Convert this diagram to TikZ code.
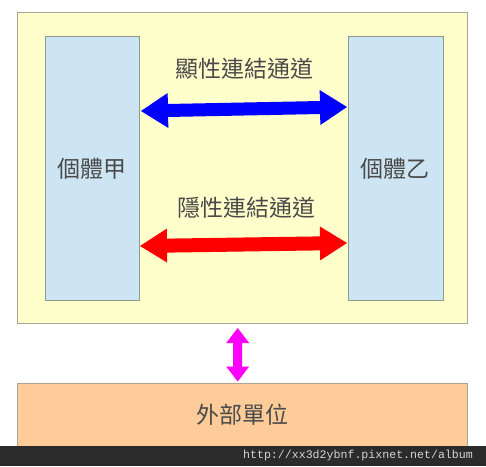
\documentclass[tikz,border=0pt]{standalone}
\usepackage{fontspec}
\usetikzlibrary{calc}
\newfontfamily\cjk{Noto Sans CJK TC}
\setmonofont{Liberation Mono}
\definecolor{yel}{HTML}{FFFFCC}
\definecolor{yelb}{HTML}{A6A69C}
\definecolor{blu}{HTML}{CDE4F2}
\definecolor{blub}{HTML}{8E9A8E}
\definecolor{org}{HTML}{FFCC99}
\definecolor{orgb}{HTML}{ADA294}
\definecolor{txt}{HTML}{4A4A4A}
\definecolor{bar}{HTML}{2B2B2B}
\definecolor{bartxt}{HTML}{D4D4D4}
\definecolor{mag}{HTML}{FF00FF}
\definecolor{bl}{HTML}{0000FF}
\definecolor{rd}{HTML}{FF0000}
\newcommand\dblarrow[6]{% a, b, head length, head half, shaft half, colour
  \fill[#6] (#1) -- ($(#1)!#3!(#2)!#4!90:(#2)$) -- ($(#1)!#3!(#2)!#5!90:(#2)$)
   -- ($(#2)!#3!(#1)!#5!-90:(#1)$) -- ($(#2)!#3!(#1)!#4!-90:(#1)$) -- (#2)
   -- ($(#2)!#3!(#1)!#4!90:(#1)$) -- ($(#2)!#3!(#1)!#5!90:(#1)$)
   -- ($(#1)!#3!(#2)!#5!-90:(#2)$) -- ($(#1)!#3!(#2)!#4!-90:(#2)$) -- cycle;}
\tikzset{
  box/.style={draw, line width=1pt, anchor=north west, inner sep=0pt, outer sep=0pt},
  lbl/.style={font=\cjk\fontsize{23}{26}\selectfont, text=txt, inner sep=0pt},
}
\begin{document}
\begin{tikzpicture}[x=1pt,y=-1pt]
\useasboundingbox (0,0) rectangle (486,466);
\fill[white] (0,0) rectangle (486,466);
% containers
\node[box, draw=yelb, fill=yel, minimum width=449.5pt, minimum height=311pt] (outer) at (17.5,12) {};
\node[box, draw=blub, fill=blu, minimum width=94pt, minimum height=264pt] (A) at (45,36) {};
\node[box, draw=blub, fill=blu, minimum width=95pt, minimum height=264pt] (B) at (348,36) {};
\node[box, draw=orgb, fill=org, minimum width=449.5pt, minimum height=64pt] (ext) at (17.5,383) {};
% labels
\node[lbl] (ta) at (91.5,169) {個體甲};
\node[lbl] (tb) at (395,169) {個體乙};
\node[lbl] (t1) at (244,69) {顯性連結通道};
\node[lbl] (t2) at (246,207.5) {隱性連結通道};
\node[lbl] (te) at (242.5,415) {外部單位};
% arrow ends
\coordinate (b1) at (141,111);
\coordinate (b2) at (347,107);
\coordinate (r1) at (140,246);
\coordinate (r2) at (347,243);
\coordinate (m1) at (237.7,328);
\coordinate (m2) at (237.7,381.5);
\dblarrow{b1}{b2}{27pt}{17.5pt}{6.5pt}{bl}
\dblarrow{r1}{r2}{27pt}{17pt}{7pt}{rd}
\dblarrow{m1}{m2}{15pt}{11.5pt}{4.5pt}{mag}
% footer
\fill[bar] (0,446) rectangle (486,466);
\node[text=bartxt, font=\ttfamily\fontsize{11.6}{13}\selectfont, inner sep=0pt] (url) at (358,455.5) {http://xx3d2ybnf.pixnet.net/album};
\end{tikzpicture}
\end{document}
